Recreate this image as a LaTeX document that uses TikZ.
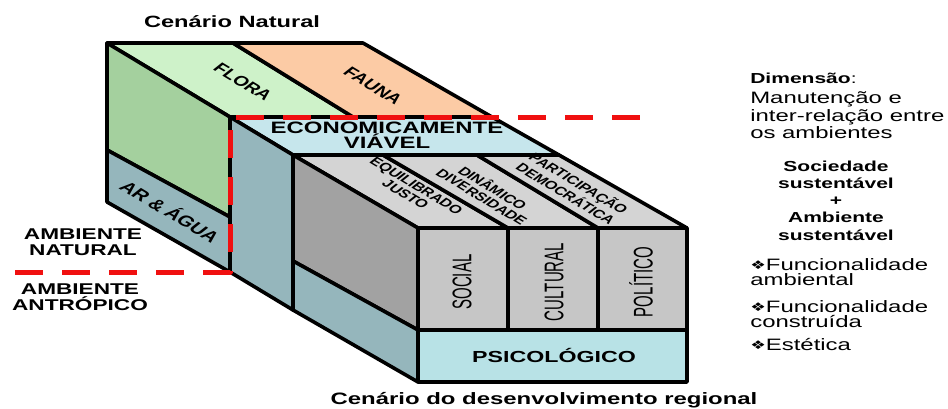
\documentclass[tikz,border=0pt]{standalone}
\usepackage{fontspec}
\setmainfont{Liberation Sans}
\newfontfamily\symfont{DejaVu Sans}
\definecolor{floratop}{HTML}{CEF2C9}
\definecolor{florasd}{HTML}{A4D09E}
\definecolor{faunatop}{HTML}{FCCBA5}
\definecolor{bluegray}{HTML}{95B6BC}
\definecolor{econtop}{HTML}{C6E6EC}
\definecolor{psico}{HTML}{B8E2E6}
\definecolor{ltgray}{HTML}{D4D4D4}
\definecolor{frgray}{HTML}{C6C6C6}
\definecolor{dkgray}{HTML}{A2A2A2}
\definecolor{dashred}{HTML}{F01010}
\newcommand{\dia}{{\symfont\fontsize{12}{12}\selectfont\raisebox{0.5pt}{❖}}}
\begin{document}
\begin{tikzpicture}[x=1pt,y=-1pt,line join=round,
  face/.style={draw=black,line width=3.6pt},
  txt/.style={inner sep=0pt,xscale=1.45},
  slant/.style={txt,rotate=-41},
  bfs/.style={font=\bfseries\fontsize{#1}{#1}\selectfont},
  vert/.style={inner sep=0pt,xscale=1.8,rotate=90,font=\fontsize{15}{15}\selectfont}]
\fill[white] (0,0) rectangle (948,408);
\useasboundingbox (0,0) rectangle (948,408);
% back layer: natural environment
\filldraw[face,fill=floratop] (107,43) -- (233,43) -- (353,117) -- (230,117) -- cycle;
\filldraw[face,fill=faunatop] (233,43) -- (363,43) -- (492,117) -- (353,117) -- cycle;
\filldraw[face,fill=florasd] (107,43) -- (230,117) -- (230,217) -- (107,150) -- cycle;
\filldraw[face,fill=bluegray] (107,150) -- (230,217) -- (230,272) -- (107,202) -- cycle;
% economic layer
\filldraw[face,fill=econtop] (230,117) -- (492,117) -- (559,155) -- (293,155) -- cycle;
\filldraw[face,fill=bluegray] (230,117) -- (293,155) -- (293,310) -- (230,272) -- cycle;
% social layer
\filldraw[face,fill=ltgray] (293,155) -- (383,155) -- (508,228) -- (418,228) -- cycle;
\filldraw[face,fill=ltgray] (383,155) -- (477,155) -- (598,228) -- (508,228) -- cycle;
\filldraw[face,fill=ltgray] (477,155) -- (559,155) -- (687,228) -- (598,228) -- cycle;
\filldraw[face,fill=dkgray] (293,155) -- (418,228) -- (418,330) -- (293,261) -- cycle;
\filldraw[face,fill=bluegray] (293,261) -- (418,330) -- (418,382) -- (293,310) -- cycle;
\filldraw[face,fill=frgray] (418,228) rectangle (508,330);
\filldraw[face,fill=frgray] (508,228) rectangle (598,330);
\filldraw[face,fill=frgray] (598,228) rectangle (687,330);
\filldraw[face,fill=psico] (418,330) rectangle (687,382);
% red dashed boundary
\draw[dashred,line width=5pt,dash pattern=on 28pt off 19pt]
  (15,272) -- (230,272) -- (230,117) -- (647,117);
% texts
\node[txt,bfs=16.3,anchor=base] (cnat) at (232,27) {Cenário Natural};
\node[txt,bfs=16.5,anchor=base] (cdes) at (544,404) {Cenário do desenvolvimento regional};
\node[slant,bfs=14] (flora) at (243,82) {FLORA};
\node[slant,bfs=14] (fauna) at (373,86) {FAUNA};
\node[slant,bfs=15] (arag) at (171,211) {AR \& ÁGUA};
\node[txt,bfs=16.5,align=center] (econ) at (387,135) {ECONOMICAMENTE\\[-1pt]VIÁVEL};
\node[slant,bfs=11.5,align=center] (equi) at (411,190) {EQUILIBRADO\\JUSTO};
\node[slant,bfs=11.5,align=center] (dina) at (488,192) {DINÂMICO\\DIVERSIDADE};
\node[slant,bfs=11.5,align=center] (part) at (573,188) {PARTICIPAÇÃO\\DEMOCRÁTICA};
\node[vert] (soc) at (462,282) {SOCIAL};
\node[vert] (cul) at (554,282) {CULTURAL};
\node[vert] (pol) at (641,282) {POLÍTICO};
\node[txt,bfs=16] (psi) at (554,355) {PSICOLÓGICO};
\node[txt,bfs=15.6,align=center] (anat) at (83,242) {AMBIENTE\\NATURAL};
\node[txt,bfs=15.6,align=center] (aant) at (80,297) {AMBIENTE\\ANTRÓPICO};
\node[txt,anchor=base west,font=\fontsize{14.5}{14.5}\selectfont] (dim) at (750,83) {\textbf{Dimensão}:};
\node[txt,anchor=north west,align=left,font=\fontsize{16.5}{17.5}\selectfont] (manu) at (750,91.5) {Manutenção e\\inter-relação entre\\os ambientes};
\node[txt,anchor=north,align=center,font=\bfseries\fontsize{14.5}{17.2}\selectfont] (soci) at (836,160.5) {Sociedade\\sustentável\\+\\Ambiente\\sustentável};
\node[txt,anchor=north west,align=left,font=\fontsize{16.5}{15}\selectfont] (fa) at (750,258) {\dia Funcionalidade\\ambiental};
\node[txt,anchor=north west,align=left,font=\fontsize{16.5}{15}\selectfont] (fc) at (750,300) {\dia Funcionalidade\\construída};
\node[txt,anchor=north west,align=left,font=\fontsize{16.5}{15}\selectfont] (fe) at (750,338) {\dia Estética};
\end{tikzpicture}
\end{document}
